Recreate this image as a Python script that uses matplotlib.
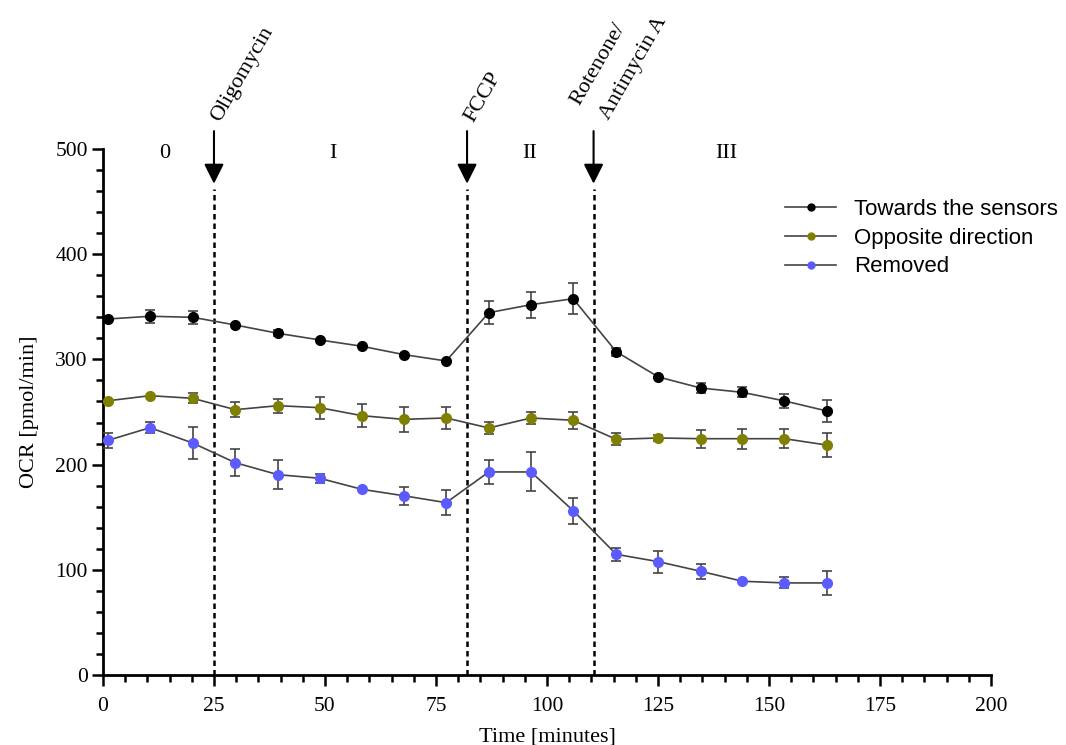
import matplotlib
matplotlib.use("Agg")
import matplotlib.pyplot as plt
from matplotlib.ticker import MultipleLocator
import numpy as np

# sampling times (minutes)
time_min = [1.2, 10.6, 20.2, 29.8, 39.4, 48.8, 58.3, 67.7, 77.3, 86.9,
            96.4, 105.9, 115.6, 125.1, 134.6, 144.0, 153.5, 163.0]

towards = [338.4, 341, 340, 332.7, 324.8, 318.5, 312.5, 304.6, 298.5, 344.4,
           352, 357.7, 307.3, 283.3, 272.8, 268.7, 260.5, 251]
towards_err = [0, 6, 6, 0, 3, 0, 0, 0, 0, 11,
               12.5, 14.5, 4, 0, 4.7, 4.7, 6.7, 10.3]

opposite = [260.7, 265.5, 263, 252.2, 256, 254.1, 246.5, 243, 244.3, 234.8,
            244.3, 242.1, 224, 225.3, 224.6, 224.6, 224.6, 218.6]
opposite_err = [0, 0, 4.8, 7, 6.5, 10.5, 11.2, 11.9, 10.6, 5.7,
                5.7, 8, 5.7, 3, 8.5, 9.7, 9.3, 11]

removed = [223.1, 235.1, 220.5, 201.8, 190.4, 187, 176.5, 170.4, 163.8, 193,
           193, 156.2, 114.7, 107.7, 98.6, 89.1, 87.5, 87.5]
removed_err = [7.3, 5, 15, 12.8, 14, 4.4, 0, 8.7, 12, 11,
               18.5, 12.5, 6.3, 10.5, 7, 0, 5.2, 11.4]

# injections
inj_time = [25, 82, 110.5]
inj_label = ["Oligomycin", "FCCP", "Rotenone/\nAntimycin A"]

phase_x = [14, 51.8, 96, 140.5]
phase_label = ["0", "I", "II", "III"]

serif = "Liberation Serif"

fig = plt.figure(figsize=(10.66, 7.45), dpi=100)
ax = fig.add_axes([0.0966, 0.094, 0.833, 0.706])

series = [
    (towards, towards_err, "black", "Towards the sensors"),
    (opposite, opposite_err, "#808000", "Opposite direction"),
    (removed, removed_err, "#5b5bff", "Removed"),
]
handles = []
for i, (vals, err, col, lab) in enumerate(series):
    ax.errorbar(time_min, vals, yerr=err, fmt="-", color="#444444", lw=1.2,
                ecolor="#444444", elinewidth=1.2, capsize=3.5, capthick=1.2,
                zorder=3 + (3 - i), clip_on=False)
    ax.plot(time_min, vals, "o", color=col, ms=7, zorder=4 + (3 - i), clip_on=False)
    h, = ax.plot([], [], "-o", color="#444444", mfc=col, mec=col, ms=5, lw=1.2)
    handles.append((h, lab))

# injection lines and arrows
for t, lab in zip(inj_time, inj_label):
    ax.plot([t, t], [0, 462], color="black", lw=1.8, ls=(0, (2.2, 1.6)), zorder=2)
    ax.annotate("", xy=(t, 467), xytext=(t, 517),
                arrowprops=dict(arrowstyle="-|>", color="black", lw=1.5,
                                mutation_scale=30, shrinkA=0, shrinkB=0),
                annotation_clip=False)
    lines = lab.split("\n")
    if len(lines) == 1:
        ax.text(t + 0.5, 527, lab, rotation=60, rotation_mode="anchor",
                ha="left", va="center", fontsize=16, family=serif)
    else:
        # each line placed on its own, offset from the arrow top
        offs = [(-10, 18), (11, 7.5)]
        for line, off in zip(lines, offs):
            ax.annotate(line, xy=(t, 517), xytext=off, textcoords="offset points",
                        rotation=60, rotation_mode="anchor", ha="left",
                        va="baseline", fontsize=16, family=serif,
                        annotation_clip=False)

for px, lab in zip(phase_x, phase_label):
    ax.text(px, 496, lab, ha="center", va="center", fontsize=16, family=serif)

ax.set_xlim(0, 200)
ax.set_ylim(0, 500)
ax.xaxis.set_major_locator(MultipleLocator(25))
ax.xaxis.set_minor_locator(MultipleLocator(5))
ax.yaxis.set_major_locator(MultipleLocator(100))
ax.yaxis.set_minor_locator(MultipleLocator(20))
for s in ["top", "right"]:
    ax.spines[s].set_visible(False)
for s in ["left", "bottom"]:
    ax.spines[s].set_linewidth(2)
ax.tick_params(which="major", length=8, width=1.8, labelsize=15.5)
ax.tick_params(axis="x", which="major", pad=8)
ax.tick_params(axis="y", which="major", pad=3)
ax.tick_params(which="minor", length=5, width=1.8)
for lbl in ax.get_xticklabels() + ax.get_yticklabels():
    lbl.set_family(serif)

ax.set_xlabel("Time [minutes]", fontsize=16, family=serif, labelpad=8)
ax.set_ylabel("OCR [pmol/min]", fontsize=16, family=serif, labelpad=12)

fig.legend([h for h, _ in handles], [l for _, l in handles],
           loc="upper left", bbox_to_anchor=(0.718, 0.760), frameon=False,
           prop={"family": "Liberation Sans", "size": 16},
           handlelength=2.3, handletextpad=0.8, labelspacing=0.35)

fig.savefig("out.png", dpi=100)
